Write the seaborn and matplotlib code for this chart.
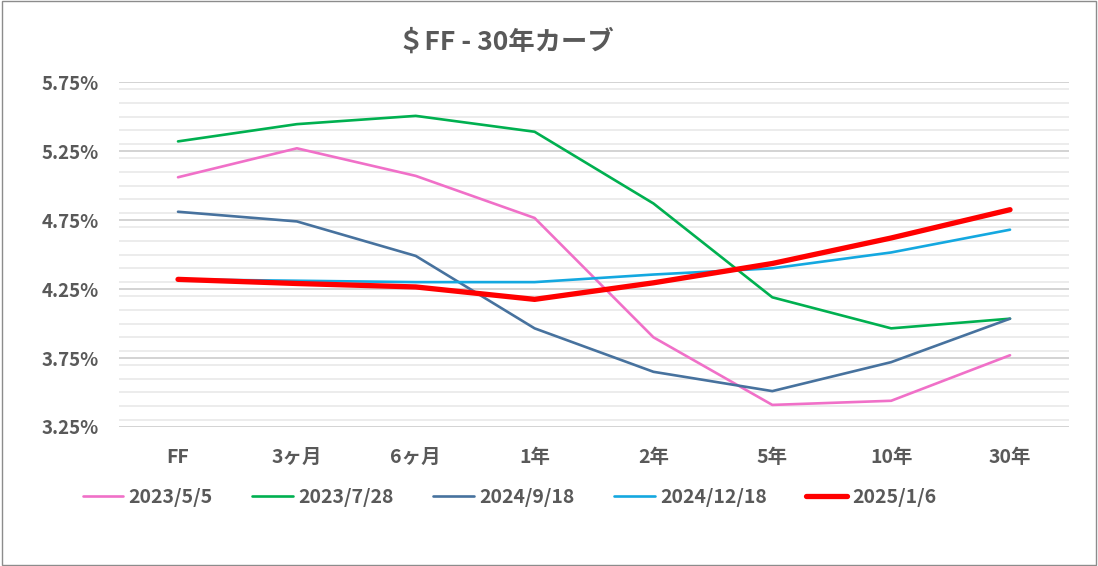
import numpy as np
import pandas as pd
import matplotlib
matplotlib.use("Agg")
import matplotlib.pyplot as plt
import seaborn as sns
from matplotlib.ticker import MultipleLocator, FuncFormatter
from matplotlib.patches import Rectangle

categories = ["FF", "3ヶ月", "6ヶ月", "1年", "2年", "5年", "10年", "30年"]
series_names = ["2023/5/5", "2023/7/28", "2024/9/18", "2024/12/18", "2025/1/6"]
s_2023_05_05 = [5.06, 5.27, 5.07, 4.765, 3.90, 3.41, 3.44, 3.77]
s_2023_07_28 = [5.32, 5.445, 5.505, 5.39, 4.87, 4.19, 3.965, 4.035]
s_2024_09_18 = [4.81, 4.74, 4.49, 3.965, 3.65, 3.51, 3.72, 4.035]
s_2024_12_18 = [4.32, 4.31, 4.30, 4.30, 4.355, 4.40, 4.515, 4.68]
s_2025_01_06 = [4.32, 4.29, 4.265, 4.175, 4.295, 4.435, 4.62, 4.825]
y_ticks = [3.25, 3.75, 4.25, 4.75, 5.25, 5.75]
title = "＄FF - 30年カーブ"

colors = ["#F070C8", "#00B050", "#47729E", "#14A8E0", "#FF0000"]
widths = [1.9, 1.9, 1.9, 1.9, 3.8]
all_values = [s_2023_05_05, s_2023_07_28, s_2024_09_18, s_2024_12_18, s_2025_01_06]

sns.set_theme(style="white")
plt.rcParams["font.family"] = ["Noto Sans CJK JP", "DejaVu Sans"]

fig = plt.figure(figsize=(10.98, 5.66), dpi=100)
ax = fig.add_axes([0.108, 0.2456, 0.866, 0.6094])

grey = "#595959"
pos = np.arange(len(categories))
for name, vals, c, w in zip(series_names, all_values, colors, widths):
    df = pd.DataFrame({"x": pos, "y": vals})
    sns.lineplot(data=df, x="x", y="y", ax=ax, color=c, linewidth=w,
                 label=name, zorder=3)

ax.set_xlim(-0.5, len(categories) - 0.5)
ax.set_ylim(y_ticks[0], y_ticks[-1])
ax.set_yticks(y_ticks)
ax.yaxis.set_minor_locator(MultipleLocator(0.1))
ax.yaxis.set_major_formatter(FuncFormatter(lambda v, p: f"{v:.2f}%"))
ax.set_xticks(pos)
ax.set_xticklabels(categories)
ax.grid(axis="y", which="major", color="#D0D0D0", linewidth=1.3, zorder=0)
ax.grid(axis="y", which="minor", color="#EBEBEB", linewidth=1.3, zorder=0)
ax.grid(axis="x", visible=False)
for s in ax.spines.values():
    s.set_visible(False)
ax.tick_params(axis="y", which="both", length=0, pad=14, labelsize=13.5, labelcolor=grey)
ax.tick_params(axis="x", length=0, pad=15, labelsize=14, labelcolor=grey)
for lab in ax.get_xticklabels() + ax.get_yticklabels():
    lab.set_fontweight("bold")
ax.set_xlabel("")
ax.set_ylabel("")

leg = ax.legend(loc="center left", bbox_to_anchor=(-0.046, -0.205), ncol=5,
                frameon=False, handlelength=2.1, columnspacing=2.05,
                handletextpad=0.25, fontsize=14, borderaxespad=0)
for t in leg.get_texts():
    t.set_color(grey)
    t.set_fontweight("bold")

fig.text(0.461, 0.926, title, ha="center", va="center", fontsize=19,
         fontweight="bold", color=grey)

fig.patches.append(Rectangle((0.0015, 0.0015), 0.997, 0.997, transform=fig.transFigure,
                             fill=False, edgecolor="#8C8C8C", linewidth=1))

fig.savefig("out.png", dpi=100)
